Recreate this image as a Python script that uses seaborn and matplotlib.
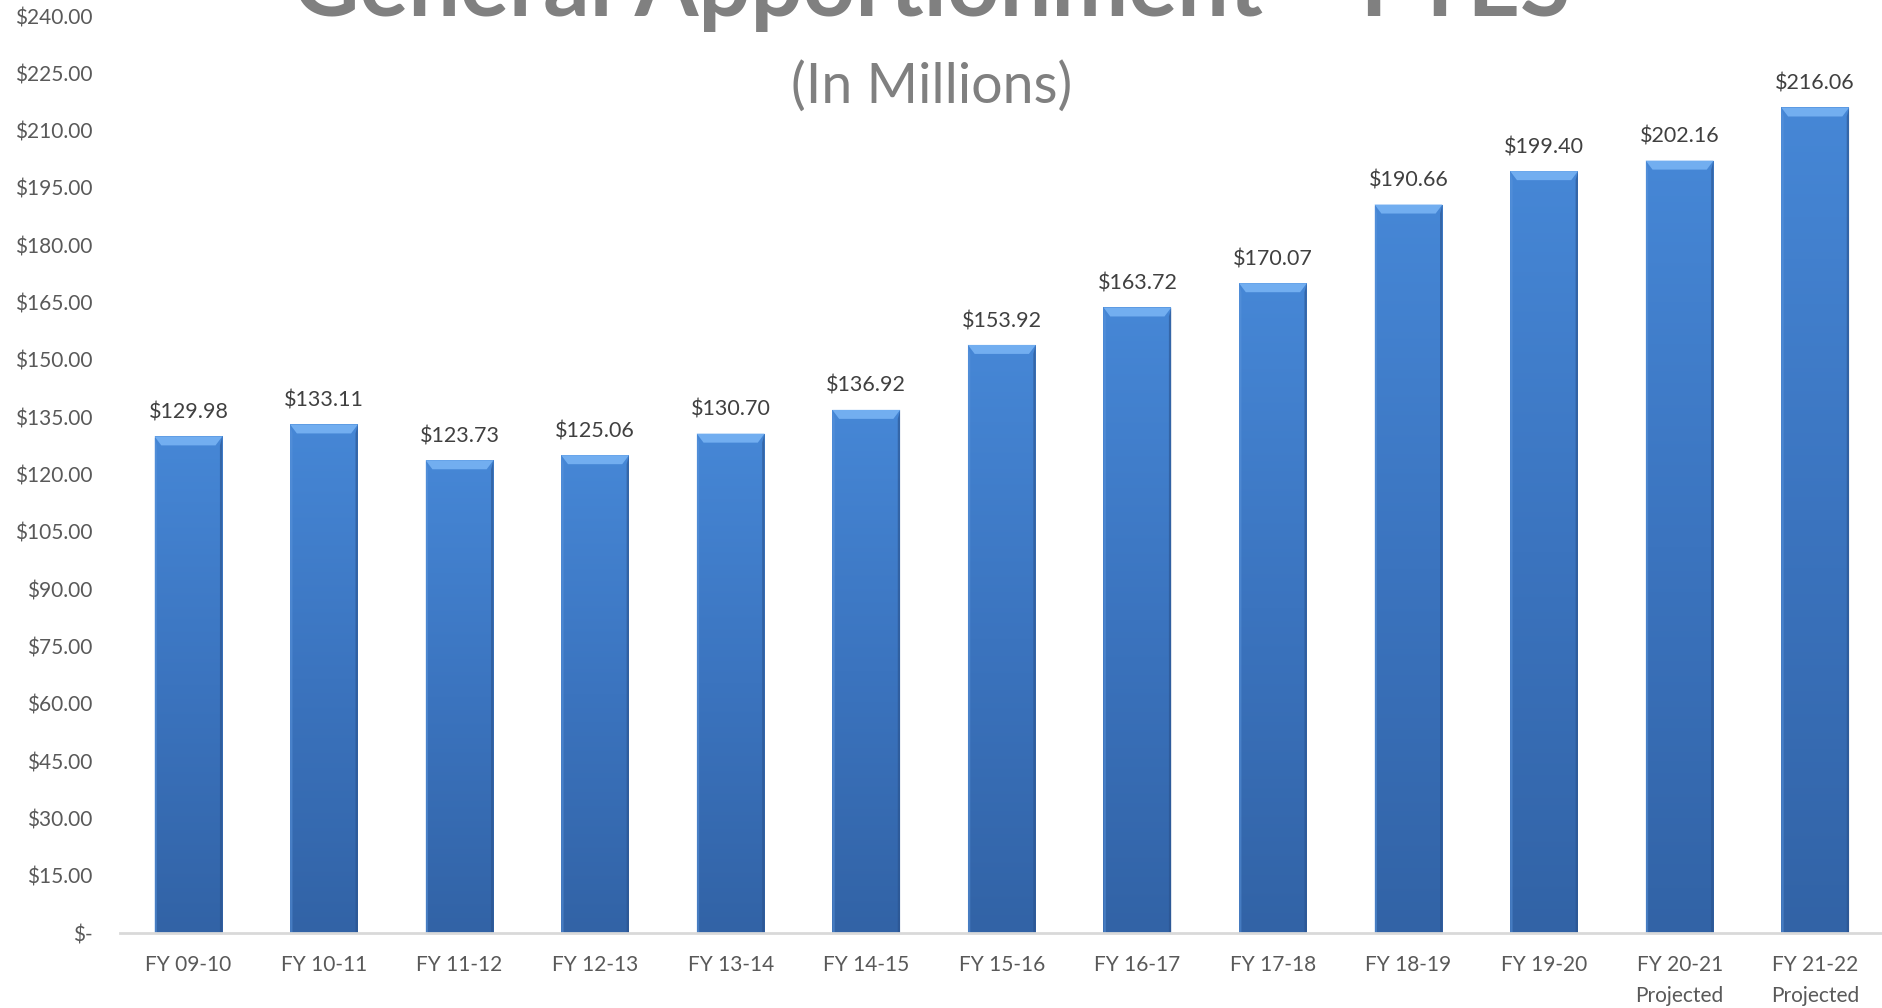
import numpy as np
import pandas as pd
import matplotlib
matplotlib.use("Agg")
import matplotlib.pyplot as plt
from matplotlib.colors import LinearSegmentedColormap
from matplotlib.patches import Polygon
import seaborn as sns

# General apportionment by fiscal year, in millions of dollars
years = ["FY 09-10", "FY 10-11", "FY 11-12", "FY 12-13", "FY 13-14", "FY 14-15",
         "FY 15-16", "FY 16-17", "FY 17-18", "FY 18-19", "FY 19-20",
         "FY 20-21\nProjected", "FY 21-22\nProjected"]
amounts = [129.98, 133.11, 123.73, 125.06, 130.70, 136.92,
           153.92, 163.72, 170.07, 190.66, 199.40, 202.16, 216.06]
y_ticks = list(range(0, 241, 15))

sns.set_theme(style="white")
plt.rcParams["font.family"] = ["Lato", "DejaVu Sans"]

df = pd.DataFrame({"year": years, "amount": amounts})

fig = plt.figure(figsize=(18.83, 10.08), dpi=100)
ax = fig.add_axes([0.0637, 0.0744, 0.9363, 0.9097])

sns.barplot(data=df, x="year", y="amount", color="#3f7cc8", width=0.5,
            saturation=1, ax=ax, zorder=2)

ax.set_xlim(-0.505, 12.5)
ax.set_ylim(0, 240)

# vertical gradient fill + bevelled top on every bar
grad = LinearSegmentedColormap.from_list("barfill", ["#3263a6", "#3b74bf", "#4687d6"])
gimg = np.linspace(0, 1, 256).reshape(-1, 1)
px_per_unit = ax.get_window_extent().height / 240.0
bevel = 9 / px_per_unit
for p in ax.patches:
    x0, y0 = p.get_x(), p.get_y()
    w, h = p.get_width(), p.get_height()
    p.set_edgecolor("none")
    im = ax.imshow(gimg, cmap=grad, aspect="auto", origin="lower",
                   extent=(x0, x0 + w, y0, y0 + h), zorder=3)
    im.set_clip_path(p)
    inset = w * 0.1
    top = Polygon([(x0, y0 + h), (x0 + w, y0 + h),
                   (x0 + w - inset, y0 + h - bevel), (x0 + inset, y0 + h - bevel)],
                  closed=True, facecolor="#72aef0", edgecolor="none", zorder=4)
    ax.add_patch(top)
    ax.add_patch(Polygon([(x0, y0), (x0, y0 + h), (x0 + inset * 0.35, y0 + h - bevel),
                          (x0 + inset * 0.35, y0)], closed=True,
                         facecolor="#5b95dc", edgecolor="none", alpha=0.5, zorder=4))
    ax.add_patch(Polygon([(x0 + w, y0), (x0 + w, y0 + h), (x0 + w - inset * 0.35, y0 + h - bevel),
                          (x0 + w - inset * 0.35, y0)], closed=True,
                         facecolor="#2a528c", edgecolor="none", alpha=0.6, zorder=4))

# value labels above the bars
for i, v in enumerate(amounts):
    ax.annotate(f"${v:,.2f}", (i, v), xytext=(0, 10), textcoords="offset points",
                ha="center", va="bottom", fontsize=15.5, color="#404040", zorder=5)

ax.set_yticks(y_ticks)
ax.set_yticklabels(["$-" if t == 0 else f"${t:,.2f}" for t in y_ticks])
ax.tick_params(axis="y", length=0, pad=20, labelsize=15, labelcolor="#595959")
ax.tick_params(axis="x", length=0, pad=16, labelsize=15, labelcolor="#595959")
for lbl in ax.get_xticklabels():
    lbl.set_linespacing(1.7)
    lbl.set_verticalalignment("top")
ax.set_xlabel("")
ax.set_ylabel("")

for side in ["top", "right", "left"]:
    ax.spines[side].set_visible(False)
ax.spines["bottom"].set_color("#d9d9d9")
ax.spines["bottom"].set_linewidth(2)
ax.spines["bottom"].set_zorder(6)

fig.text(0.495, 1 - 16 / 1008, "General Apportionment \u2013 FTES", ha="center",
         va="baseline", fontsize=66, fontweight="bold", color="#808080")
fig.text(0.4945, 1 - 87 / 1008, "(In Millions)", ha="center", va="center",
         fontsize=40, color="#808080")

fig.savefig("out.png", dpi=100)
